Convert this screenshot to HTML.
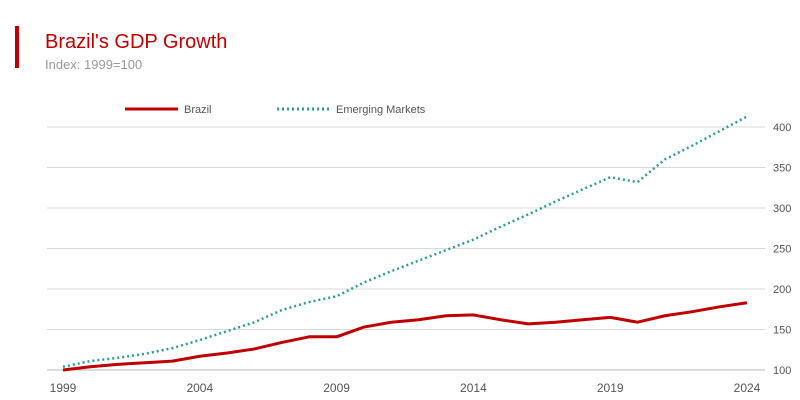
<!DOCTYPE html>
<html><head><meta charset="utf-8"><style>
body{margin:0;background:#fff;font-family:"Liberation Sans",sans-serif}
#wrap{position:relative;width:800px;height:400px;overflow:hidden}
</style></head><body>
<div id="wrap">
<svg id="chart" width="800" height="400">
<rect x="15" y="26" width="4" height="42" fill="#c00000"/>
<text x="45" y="48" font-size="20" fill="#c00000">Brazil's GDP Growth</text>
<text x="45" y="69" font-size="13" fill="#999">Index: 1999=100</text>
<g>
<line x1="125" y1="109" x2="178" y2="109" stroke="#c00000" stroke-width="3"/>
<text x="184" y="113" font-size="11" fill="#555">Brazil</text>
<line x1="277" y1="109" x2="330" y2="109" stroke="#2a9d8f" stroke-width="3" stroke-dasharray="2,3"/>
<text x="336" y="113" font-size="11" fill="#555">Emerging Markets</text>
</g>
<g id="grid"></g><g id="axes"></g><g id="series"></g>
</svg>
</div>
<script>
const years=[1999,2000,2001,2002,2003,2004,2005,2006,2007,2008,2009,2010,2011,2012,2013,2014,2015,2016,2017,2018,2019,2020,2021,2022,2023,2024];
const brazil=[100,104,107,109,111,117,121,126,134,141,141,153,159,162,167,168,162,157,159,162,165,159,167,172,178,183];
const emerging=[104,111,115,120,127,137,148,159,174,184,191,208,222,235,248,261,277,292,308,323,338,332,360,377,395,413];
const yTicks=[100,150,200,250,300,350,400];
const xTicks=[1999,2004,2009,2014,2019,2024];
const NS="http://www.w3.org/2000/svg";
const x=v=>63+(v-1999)*(747-63)/25;
const y=v=>370-(v-100)*(370-127)/300;
function mk(t,a,p){const e=document.createElementNS(NS,t);for(const k in a)e.setAttribute(k,a[k]);p.appendChild(e);return e;}
const grid=document.getElementById('grid'),axes=document.getElementById('axes'),ser=document.getElementById('series');
yTicks.forEach(v=>{
 const l=mk('line',{x1:47,x2:765,y1:y(v),y2:y(v),stroke:v===100?'#bbb':'#d9d9d9','stroke-width':1},grid);
 
 
 const t=mk('text',{x:773,y:y(v)+4,'font-size':11,fill:'#555'},axes);t.textContent=v;
 
 
});
xTicks.forEach(v=>{
 const t=mk('text',{x:x(v),y:392,'font-size':12,fill:'#555','text-anchor':'middle'},axes);t.textContent=v;
 
 
});
const pts=a=>a.map((v,i)=>x(years[i])+','+y(v)).join(' ');
const em=mk('polyline',{points:pts(emerging),fill:'none',stroke:'#2a9d8f','stroke-width':2.5,'stroke-dasharray':'2,3'},ser);


const br=mk('polyline',{points:pts(brazil),fill:'none',stroke:'#c00000','stroke-width':3,'stroke-linejoin':'round'},ser);


</script>
</body></html>
